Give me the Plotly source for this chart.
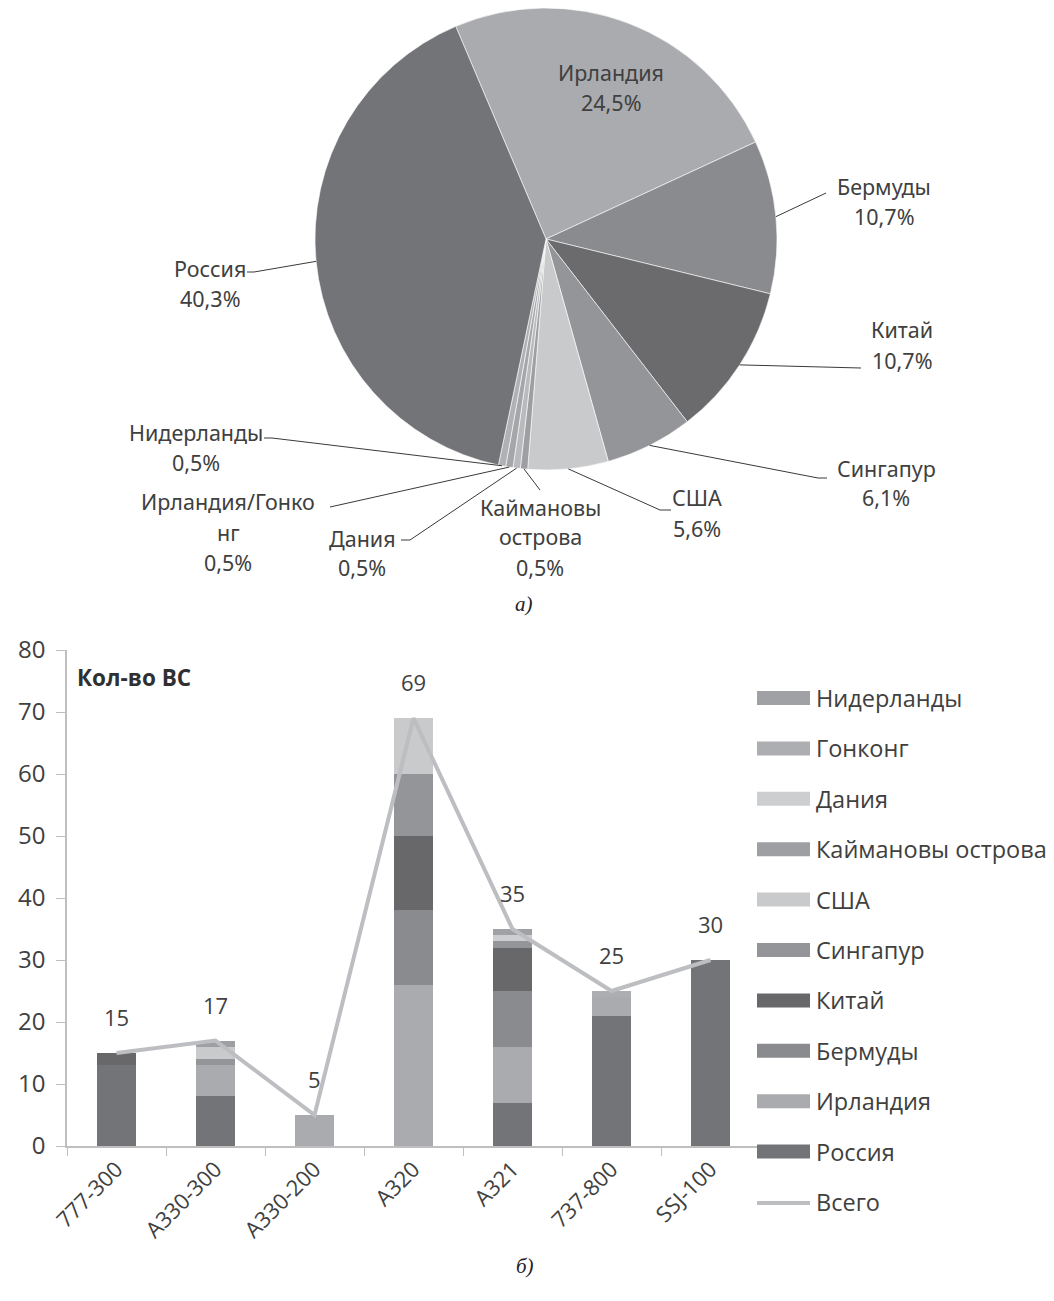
import math
import plotly.graph_objects as go

# ---------------- DATA ----------------
# Pie (a): aircraft count by country of registration
pie_labels = ["Ирландия", "Бермуды", "Китай", "Сингапур", "США",
              "Каймановы острова", "Дания", "Ирландия/Гонконг", "Нидерланды", "Россия"]
pie_values = [48, 21, 21, 12, 11, 1, 1, 1, 1, 79]

# Bar chart (б): aircraft types stacked by country
categories = ["777-300", "A330-300", "A330-200", "A320", "A321", "737-800", "SSJ-100"]
russia      = [13, 8, 0, 0, 7, 21, 30]
ireland     = [0, 5, 5, 26, 9, 3, 0]
bermuda     = [0, 0, 0, 12, 9, 0, 0]
china       = [2, 0, 0, 12, 7, 0, 0]
singapore   = [0, 1, 0, 10, 1, 0, 0]
usa         = [0, 2, 0, 9, 0, 0, 0]
cayman      = [0, 1, 0, 0, 0, 0, 0]
denmark     = [0, 0, 0, 0, 1, 0, 0]
hongkong    = [0, 0, 0, 0, 0, 1, 0]
netherlands = [0, 0, 0, 0, 1, 0, 0]
totals      = [15, 17, 5, 69, 35, 25, 30]

series_names = ["Россия", "Ирландия", "Бермуды", "Китай", "Сингапур", "США",
                "Каймановы острова", "Дания", "Гонконг", "Нидерланды"]
series_values = [russia, ireland, bermuda, china, singapore, usa,
                 cayman, denmark, hongkong, netherlands]
total_name = "Всего"

# ---------------- STYLE ----------------
W, H = 1054, 1301
def px(x): return x / W
def py(y): return 1 - y / H

TXT = "#404040"
PIE_FONT = "Noto Sans"
BAR_FONT = "Open Sans"
PIE_FS = 21.5

pie_colors = ["#aaabae", "#8a8b8e", "#6b6b6e", "#949598", "#c9cacc",
              "#9e9fa2", "#b9babc", "#a5a6a9", "#b0b1b4", "#737478"]
bar_colors = {"Россия": "#737478", "Ирландия": "#aaabae", "Бермуды": "#8a8b8e",
              "Китай": "#68686b", "Сингапур": "#949598", "США": "#c9cacc",
              "Каймановы острова": "#9e9fa2", "Дания": "#cdcecf",
              "Гонконг": "#adaeb1", "Нидерланды": "#a0a1a4"}
line_color = "#bdbec1"

PIE_CX, PIE_CY, PIE_R = 546, 239, 231
PIE_ROT = -23

# label layout: text lines, center x, first line y, leader polyline points (pixels)
pie_label_layout = [
    (["Ирландия"], 611, 72, None),
    (["Бермуды"], 884, 186, [(826, 193)]),
    (["Китай"], 902, 330, [(861, 368)]),
    (["Сингапур"], 886, 468, [(818, 478), (827, 478)]),
    (["США"], 697, 498, [(660, 510), (671, 510)]),
    (["Каймановы", "острова"], 540, 507, [(540, 490)]),
    (["Дания"], 362, 538, [(410, 540), (401, 540)]),
    (["Ирландия/Гонко", "нг"], 228, 502, [(330, 507)]),
    (["Нидерланды"], 196, 432, [(272, 438), (264, 438)]),
    (["Россия"], 210, 268, [(254, 272), (247, 272)]),
]
LINE_SP = 30

fig = go.Figure()

# ---------------- PIE ----------------
fig.add_trace(go.Pie(
    labels=pie_labels, values=pie_values, sort=False, direction="clockwise",
    rotation=PIE_ROT, textinfo="none", hoverinfo="label+percent",
    marker=dict(colors=pie_colors, line=dict(color="#ffffff", width=0.6)),
    domain=dict(x=[px(PIE_CX - PIE_R), px(PIE_CX + PIE_R)],
                y=[py(PIE_CY + PIE_R), py(PIE_CY - PIE_R)]),
    showlegend=False,
))

annotations = []
shapes = []
total_pie = sum(pie_values)
cum = 0
for val, (lines, tx, ty, pts) in zip(pie_values, pie_label_layout):
    pct = f"{val / total_pie * 100:.1f}".replace(".", ",") + "%"
    all_lines = lines + [pct]
    for i, t in enumerate(all_lines):
        annotations.append(dict(
            x=px(tx), y=py(ty + i * LINE_SP), xref="paper", yref="paper",
            text=t, showarrow=False, xanchor="center", yanchor="middle",
            font=dict(family=PIE_FONT, size=PIE_FS, color=TXT)))
    mid = math.radians(PIE_ROT + 360 * (cum + val / 2) / total_pie)
    cum += val
    if pts:
        ex = PIE_CX + PIE_R * math.sin(mid)
        ey = PIE_CY - PIE_R * math.cos(mid)
        path = f"M {px(ex)},{py(ey)}" + "".join(f" L {px(x)},{py(y)}" for x, y in pts)
        shapes.append(dict(type="path", xref="paper", yref="paper", path=path,
                           line=dict(color="#3a3a3a", width=1)))

annotations.append(dict(x=px(524), y=py(604), xref="paper", yref="paper",
                        text="<i>а)</i>", showarrow=False,
                        font=dict(family="Liberation Serif", size=21, color="#222")))
annotations.append(dict(x=px(525), y=py(1280), xref="paper", yref="paper",
                        text="<i>б)</i>", showarrow=False,
                        font=dict(family="Liberation Serif", size=21, color="#222")))

# ---------------- BARS ----------------
for name, vals in zip(series_names, series_values):
    fig.add_trace(go.Bar(x=categories, y=vals, name=name,
                         marker=dict(color=bar_colors[name], line=dict(width=0)),
                         showlegend=False, xaxis="x", yaxis="y"))

fig.add_trace(go.Scatter(x=categories, y=totals, name=total_name, mode="lines",
                         line=dict(color=line_color, width=4),
                         showlegend=False, xaxis="x", yaxis="y"))

for c, t in zip(categories, totals):
    annotations.append(dict(x=c, y=t, xref="x", yref="y", yshift=36,
                            text=str(t), showarrow=False,
                            font=dict(family=BAR_FONT, size=22, color=TXT)))

annotations.append(dict(x=px(75), y=py(677), xref="paper", yref="paper",
                        text="<b>Кол-во ВС</b>", showarrow=False,
                        xanchor="left", yanchor="middle",
                        font=dict(family=BAR_FONT, size=22.5, color="#303030")))

# manual legend (wide swatches like the reference)
leg_names = list(reversed(series_names)) + [total_name]
LEG_Y0, LEG_STEP = 698, 50.4
for i, name in enumerate(leg_names):
    yy = LEG_Y0 + i * LEG_STEP
    if name == total_name:
        shapes.append(dict(type="line", xref="paper", yref="paper",
                           x0=px(757), x1=px(810), y0=py(yy + 1), y1=py(yy + 1),
                           line=dict(color=line_color, width=4)))
    else:
        shapes.append(dict(type="rect", xref="paper", yref="paper",
                           x0=px(757), x1=px(810), y0=py(yy + 7), y1=py(yy - 7),
                           fillcolor=bar_colors[name], line=dict(width=0)))
    annotations.append(dict(x=px(814), y=py(yy), xref="paper", yref="paper",
                            text=name, showarrow=False, xanchor="left", yanchor="middle",
                            font=dict(family=BAR_FONT, size=23.5, color=TXT)))

axis_col = "#bfbfbf"
fig.update_layout(
    width=W, height=H, margin=dict(l=0, r=0, t=0, b=0),
    paper_bgcolor="white", plot_bgcolor="white",
    separators=", ",
    barmode="stack", bargap=0.6,
    xaxis=dict(domain=[px(67), px(760)], type="category", tickangle=-45,
               ticks="outside", tickson="boundaries", ticklen=8, tickcolor=axis_col,
               showline=True, linecolor=axis_col, linewidth=1.5, showgrid=False,
               tickfont=dict(family=BAR_FONT, size=22, color=TXT), automargin=False,
               fixedrange=True),
    yaxis=dict(domain=[py(1146), py(650)], range=[0, 80], dtick=10,
               ticks="outside", ticklen=9, tickcolor=axis_col,
               showline=True, linecolor=axis_col, linewidth=1.5,
               showgrid=False, zeroline=False, ticklabelstandoff=6,
               tickfont=dict(family=BAR_FONT, size=24, color=TXT), automargin=False,
               fixedrange=True),
    annotations=annotations, shapes=shapes,
    font=dict(family=BAR_FONT, color=TXT),
)

fig.write_html("out.html")
